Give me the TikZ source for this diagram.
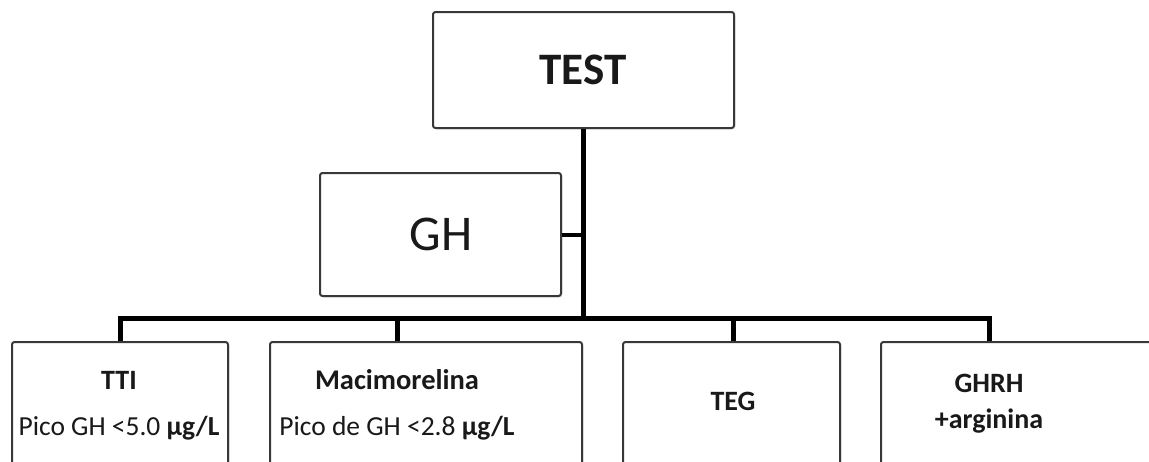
\documentclass[tikz,border=0pt]{standalone}
\usepackage{fontspec}
\setmainfont{Carlito}
\usetikzlibrary{shadows}
\tikzset{
  box/.style={draw=black!78, line width=2pt, fill=white, rounded corners=2.5pt,
    drop shadow={opacity=0.18, shadow xshift=1.5pt, shadow yshift=-1.5pt}},
  conn/.style={draw=black, line width=5pt},
  lbl/.style={align=center, inner sep=0pt, text=black!90},
}
\begin{document}
\begin{tikzpicture}[x=1pt,y=-1pt]
\useasboundingbox (0,0) rectangle (1149,461);
\fill[white] (0,0) rectangle (1149,461);
\clip (0,0) rectangle (1149,461);
% boxes
\node[box, minimum width=301, minimum height=116] (test) at (583.5,70) {};
\node[lbl, font=\fontsize{45}{54}\selectfont\bfseries] (testt) at (583,70) {TEST};
\node[box, minimum width=241, minimum height=123] (gh) at (440.5,234.5) {};
\node[lbl, font=\fontsize{50}{60}\selectfont] (ght) at (441,234) {GH};
\node[box, minimum width=216, minimum height=124] (b1) at (120,404) {};
\node[box, minimum width=312, minimum height=124] (b2) at (426,404) {};
\node[box, minimum width=217, minimum height=124] (b3) at (731.5,404) {};
\node[box, minimum width=290, minimum height=124] (b4) at (1026,404) {};
\node[lbl, font=\fontsize{28}{33}\selectfont, anchor=base] (b1t) at (119,389) {\textbf{TTI}};
\node[lbl, font=\fontsize{27.5}{33}\selectfont, anchor=base] (b1s) at (119,435) {Pico GH <5.0 \textbf{µg/L}};
\node[lbl, font=\fontsize{28.5}{33}\selectfont, anchor=base] (b2t) at (397,389) {\textbf{Macimorelina}};
\node[lbl, font=\fontsize{27.5}{33}\selectfont, anchor=base] (b2s) at (397,435) {Pico de GH <2.8 \textbf{µg/L}};
\node[lbl, font=\fontsize{28}{33}\selectfont\bfseries] (b3t) at (733,401) {TEG};
\node[lbl, font=\fontsize{28}{33}\selectfont\bfseries, anchor=base] (b4t) at (989,392) {GHRH};
\node[lbl, font=\fontsize{28}{33}\selectfont\bfseries, anchor=base] (b4s) at (989,428) {+arginina};
% connectors
\coordinate (j1) at (120,318.5);
\coordinate (j2) at (397,318.5);
\coordinate (j3) at (733,318.5);
\coordinate (j4) at (989,318.5);
\draw[conn] (test.south) -- (test.south |- j1);
\draw[conn, line width=4pt] (gh.east) -- (gh.east -| test.south);
\draw[conn] (j1 |- b1.north) -- (j1) -- (j4) -- (j4 |- b4.north);
\draw[conn] (j2) -- (j2 |- b2.north);
\draw[conn] (j3) -- (j3 |- b3.north);
\end{tikzpicture}
\end{document}
